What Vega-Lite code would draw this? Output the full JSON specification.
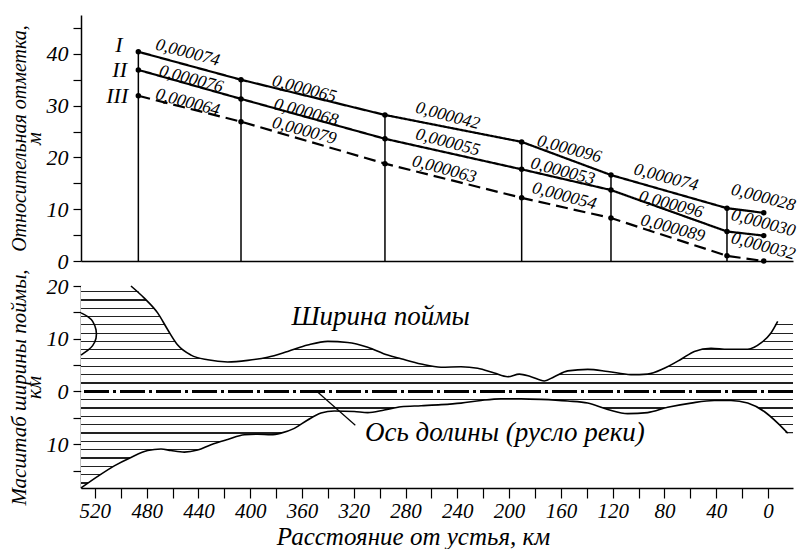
{
  "$schema": "https://vega.github.io/schema/vega-lite/v6.json",
  "padding": {"left": 7, "top": 15, "right": 0, "bottom": 0},
  "background": "white",
  "config": {
    "view": {"stroke": null},
    "font": "Liberation Serif, Times New Roman, DejaVu Serif, serif",
    "axis": {
      "grid": false, "domainColor": "black", "tickColor": "black", "labelColor": "black", "titleColor": "black",
      "labelFont": "Liberation Serif, Times New Roman, DejaVu Serif, serif", "labelFontStyle": "italic", "labelFontSize": 22,
      "titleFont": "Liberation Serif, Times New Roman, DejaVu Serif, serif", "titleFontStyle": "italic", "titleFontSize": 21, "titleFontWeight": "normal",
      "domainWidth": 1.5, "tickWidth": 1.2, "zindex": 1
    }
  },
  "datasets": {
    "prof": [
      {"station": 1, "km": 486.4, "line": "I", "h": 40.4},
      {"station": 2, "km": 407.1, "line": "I", "h": 35.0},
      {"station": 3, "km": 295.9, "line": "I", "h": 28.2},
      {"station": 4, "km": 190.3, "line": "I", "h": 23.0},
      {"station": 5, "km": 121.3, "line": "I", "h": 16.6},
      {"station": 6, "km": 31.7, "line": "I", "h": 10.2},
      {"station": 7, "km": 3.3, "line": "I", "h": 9.3},
      {"station": 1, "km": 486.4, "line": "II", "h": 36.9},
      {"station": 2, "km": 407.1, "line": "II", "h": 31.3},
      {"station": 3, "km": 295.9, "line": "II", "h": 23.6},
      {"station": 4, "km": 190.3, "line": "II", "h": 17.7},
      {"station": 5, "km": 121.3, "line": "II", "h": 13.7},
      {"station": 6, "km": 31.7, "line": "II", "h": 5.7},
      {"station": 7, "km": 3.3, "line": "II", "h": 4.9},
      {"station": 1, "km": 486.4, "line": "III", "h": 31.9},
      {"station": 2, "km": 407.1, "line": "III", "h": 26.9},
      {"station": 3, "km": 295.9, "line": "III", "h": 18.8},
      {"station": 4, "km": 190.3, "line": "III", "h": 12.2},
      {"station": 5, "km": 121.3, "line": "III", "h": 8.3},
      {"station": 6, "km": 31.7, "line": "III", "h": 1.0},
      {"station": 7, "km": 3.3, "line": "III", "h": 0.0}
    ],
    "labels": [
      {"kind": "roman", "seg": "R1", "text": "I", "km": 498.5, "h": 41.7},
      {"kind": "roman", "seg": "R2", "text": "II", "km": 495.2, "h": 36.9},
      {"kind": "roman", "seg": "R3", "text": "III", "km": 494.2, "h": 31.8},
      {"kind": "slope", "seg": "I1", "text": "0,000074", "km": 448.3, "h": 40.2},
      {"kind": "slope", "seg": "II1", "text": "0,000076", "km": 445.6, "h": 35.1},
      {"kind": "slope", "seg": "III1", "text": "0,000064", "km": 448.3, "h": 30.6},
      {"kind": "slope", "seg": "I2", "text": "0,000065", "km": 358.2, "h": 33.2},
      {"kind": "slope", "seg": "II2", "text": "0,000068", "km": 356.9, "h": 28.7},
      {"kind": "slope", "seg": "III2", "text": "0,000079", "km": 358.2, "h": 25.1},
      {"kind": "slope", "seg": "I3", "text": "0,000042", "km": 247.4, "h": 28.0},
      {"kind": "slope", "seg": "II3", "text": "0,000055", "km": 247.4, "h": 22.9},
      {"kind": "slope", "seg": "III3", "text": "0,000063", "km": 250.1, "h": 17.7},
      {"kind": "slope", "seg": "I4", "text": "0,000096", "km": 153.5, "h": 21.6},
      {"kind": "slope", "seg": "II4", "text": "0,000053", "km": 158.6, "h": 17.3},
      {"kind": "slope", "seg": "III4", "text": "0,000054", "km": 157.4, "h": 12.5},
      {"kind": "slope", "seg": "I5", "text": "0,000074", "km": 78.8, "h": 16.1},
      {"kind": "slope", "seg": "II5", "text": "0,000096", "km": 74.9, "h": 10.9},
      {"kind": "slope", "seg": "III5", "text": "0,000089", "km": 73.6, "h": 6.3},
      {"kind": "slope", "seg": "I6", "text": "0,000028", "km": 3.6, "h": 12.2},
      {"kind": "slope", "seg": "II6", "text": "0,000030", "km": 3.6, "h": 7.3},
      {"kind": "slope", "seg": "III6", "text": "0,000032", "km": 3.6, "h": 2.8}
    ],
    "upper": [
      {"km": 530.7, "h": 20.0, "drawn": false},
      {"km": 492.1, "h": 20.0, "drawn": true},
      {"km": 481.8, "h": 17.7, "drawn": true},
      {"km": 471.5, "h": 14.9, "drawn": true},
      {"km": 463.7, "h": 11.7, "drawn": true},
      {"km": 456.0, "h": 8.8, "drawn": true},
      {"km": 445.7, "h": 6.9, "drawn": true},
      {"km": 432.8, "h": 6.0, "drawn": true},
      {"km": 417.4, "h": 5.6, "drawn": true},
      {"km": 401.9, "h": 5.9, "drawn": true},
      {"km": 386.5, "h": 6.5, "drawn": true},
      {"km": 371.0, "h": 7.6, "drawn": true},
      {"km": 355.6, "h": 8.8, "drawn": true},
      {"km": 340.1, "h": 9.5, "drawn": true},
      {"km": 324.7, "h": 9.3, "drawn": true},
      {"km": 309.2, "h": 8.4, "drawn": true},
      {"km": 293.8, "h": 6.9, "drawn": true},
      {"km": 283.5, "h": 6.2, "drawn": true},
      {"km": 268.0, "h": 5.2, "drawn": true},
      {"km": 252.6, "h": 4.6, "drawn": true},
      {"km": 237.2, "h": 4.7, "drawn": true},
      {"km": 224.3, "h": 4.4, "drawn": true},
      {"km": 211.4, "h": 3.5, "drawn": true},
      {"km": 201.1, "h": 2.8, "drawn": true},
      {"km": 192.1, "h": 3.3, "drawn": true},
      {"km": 183.1, "h": 2.8, "drawn": true},
      {"km": 172.8, "h": 2.0, "drawn": true},
      {"km": 165.1, "h": 2.8, "drawn": true},
      {"km": 154.7, "h": 3.9, "drawn": true},
      {"km": 139.3, "h": 4.2, "drawn": true},
      {"km": 123.8, "h": 3.8, "drawn": true},
      {"km": 106.0, "h": 3.2, "drawn": true},
      {"km": 93.0, "h": 3.3, "drawn": true},
      {"km": 80.1, "h": 4.4, "drawn": true},
      {"km": 67.2, "h": 6.1, "drawn": true},
      {"km": 56.9, "h": 7.6, "drawn": true},
      {"km": 44.0, "h": 8.2, "drawn": true},
      {"km": 31.1, "h": 8.0, "drawn": true},
      {"km": 15.7, "h": 8.0, "drawn": true},
      {"km": 5.4, "h": 9.2, "drawn": true},
      {"km": -2.3, "h": 11.1, "drawn": true},
      {"km": -7.5, "h": 13.3, "drawn": true},
      {"km": -19.3, "h": 13.3, "drawn": false}
    ],
    "lower": [
      {"km": 530.7, "h": -18.3, "drawn": true},
      {"km": 517.8, "h": -16.1, "drawn": true},
      {"km": 505.0, "h": -14.1, "drawn": true},
      {"km": 492.1, "h": -12.5, "drawn": true},
      {"km": 479.2, "h": -11.2, "drawn": true},
      {"km": 468.9, "h": -10.9, "drawn": true},
      {"km": 461.2, "h": -11.2, "drawn": true},
      {"km": 450.9, "h": -11.5, "drawn": true},
      {"km": 440.6, "h": -11.1, "drawn": true},
      {"km": 430.3, "h": -10.1, "drawn": true},
      {"km": 417.4, "h": -9.1, "drawn": true},
      {"km": 404.5, "h": -8.2, "drawn": true},
      {"km": 394.2, "h": -8.1, "drawn": true},
      {"km": 383.9, "h": -8.2, "drawn": true},
      {"km": 376.2, "h": -7.9, "drawn": true},
      {"km": 365.9, "h": -7.0, "drawn": true},
      {"km": 355.6, "h": -5.4, "drawn": true},
      {"km": 345.3, "h": -4.1, "drawn": true},
      {"km": 335.0, "h": -3.7, "drawn": true},
      {"km": 319.6, "h": -3.8, "drawn": true},
      {"km": 309.2, "h": -4.0, "drawn": true},
      {"km": 296.4, "h": -3.5, "drawn": true},
      {"km": 283.5, "h": -2.9, "drawn": true},
      {"km": 268.0, "h": -2.7, "drawn": true},
      {"km": 252.6, "h": -2.5, "drawn": true},
      {"km": 237.2, "h": -2.2, "drawn": true},
      {"km": 221.7, "h": -1.7, "drawn": true},
      {"km": 206.3, "h": -1.4, "drawn": true},
      {"km": 190.8, "h": -1.4, "drawn": true},
      {"km": 175.4, "h": -1.5, "drawn": true},
      {"km": 154.7, "h": -1.8, "drawn": true},
      {"km": 139.3, "h": -2.2, "drawn": true},
      {"km": 123.8, "h": -3.4, "drawn": true},
      {"km": 108.4, "h": -4.2, "drawn": true},
      {"km": 93.0, "h": -4.0, "drawn": true},
      {"km": 77.5, "h": -3.0, "drawn": true},
      {"km": 59.5, "h": -2.2, "drawn": true},
      {"km": 41.5, "h": -1.7, "drawn": true},
      {"km": 28.6, "h": -1.7, "drawn": true},
      {"km": 15.7, "h": -2.2, "drawn": true},
      {"km": 2.9, "h": -3.8, "drawn": true},
      {"km": -7.5, "h": -6.0, "drawn": true},
      {"km": -15.2, "h": -7.9, "drawn": true},
      {"km": -19.3, "h": -7.9, "drawn": false}
    ],
    "loop": [
      {"i": 0, "km": 530.7, "h": 14.9},
      {"i": 1, "km": 525.5, "h": 14.2},
      {"i": 2, "km": 521.7, "h": 13.3},
      {"i": 3, "km": 519.1, "h": 11.7},
      {"i": 4, "km": 519.1, "h": 10.1},
      {"i": 5, "km": 521.7, "h": 8.7},
      {"i": 6, "km": 526.1, "h": 7.7},
      {"i": 7, "km": 530.7, "h": 6.9}
    ],
    "notes": [
      {"text": "Ширина поймы", "km": 299.3, "h": 14.2},
      {"text": "Ось долины (русло реки)", "km": 203.2, "h": -7.9}
    ],
    "leader": [
      {"km": 348.4, "h": 0, "km2": 318.8, "h2": -6.4}
    ],
    "axisline": [
      {"h": 0}
    ]
  },
  "vconcat": [
    {
      "width": 712,
      "height": 246,
      "encoding": {
        "x": {"field": "km", "type": "quantitative",
              "scale": {"domain": [-19.3, 530.7], "reverse": true, "nice": false, "zero": false},
              "axis": {"domain": true, "ticks": false, "labels": false, "title": null}},
        "y": {"field": "h", "type": "quantitative",
              "scale": {"domain": [0, 47.5], "nice": false},
              "axis": {"values": [0, 5, 10, 15, 20, 25, 30, 35, 40, 45],
                       "labelExpr": "datum.value % 10 === 0 ? datum.label : ''",
                       "tickSize": 8, "labelPadding": 5, "titlePadding": 2, "titleLineHeight": 15,
                       "titleFontSize": 20,
                       "title": ["Относительная отметка,", "м"]}}
      },
      "layer": [
        {
          "data": {"name": "prof"},
          "transform": [{"filter": "datum.line === 'I' && datum.station < 7"}],
          "mark": {"type": "rule", "color": "black", "strokeWidth": 1.5},
          "encoding": {"y2": {"datum": 0}}
        },
        {
          "data": {"name": "prof"},
          "mark": {"type": "line", "color": "black", "strokeWidth": 2.2},
          "encoding": {
            "detail": {"field": "line"},
            "strokeDash": {"field": "line", "type": "nominal",
                           "scale": {"domain": ["I", "II", "III"], "range": [[1, 0], [1, 0], [12, 6]]},
                           "legend": null}
          }
        },
        {
          "data": {"name": "prof"},
          "mark": {"type": "point", "filled": true, "color": "black", "opacity": 1, "size": 30}
        },
        {
          "data": {"name": "labels"},
          "transform": [{"filter": "datum.kind === 'roman'"}],
          "mark": {"type": "text", "align": "right", "baseline": "middle", "font": "Liberation Serif, Times New Roman, DejaVu Serif, serif", "fontStyle": "italic", "fontSize": 22, "color": "black"},
          "encoding": {"text": {"field": "text"}}
        },
        {
          "data": {"name": "labels"},
          "transform": [{"filter": "datum.kind === 'slope'"}],
          "mark": {"type": "text", "align": "center", "baseline": "middle", "font": "Liberation Serif, Times New Roman, DejaVu Serif, serif", "fontStyle": "italic", "fontSize": 17.5, "color": "black"},
          "encoding": {
            "text": {"field": "text"},
            "angle": {"field": "seg", "type": "nominal",
                      "scale": {"domain": ["I1","II1","III1","I2","II2","III2","I3","II3","III3","I4","II4","III4","I5","II5","III5","I6","II6","III6"],
                                "range": [15,15,14,14,15,15,11,12,13,20,12,12,16,18,17,0,0,0]},
                      "legend": null}
          }
        }
      ]
    },
    {
      "width": 712,
      "height": 202,
      "encoding": {
        "x": {"field": "km", "type": "quantitative",
              "scale": {"domain": [-19.3, 530.7], "reverse": true, "nice": false, "zero": false},
              "axis": {"values": [0,20,40,60,80,100,120,140,160,180,200,220,240,260,280,300,320,340,360,380,400,420,440,460,480,500,520],
                       "labelExpr": "datum.value % 40 === 0 ? datum.label : ''",
                       "format": "d", "tickSize": 10, "labelPadding": 2, "labelFontSize": 21,
                       "titleFontSize": 25, "titlePadding": 3, "titleX": 332,
                       "title": "Расстояние от устья, км"}},
        "y": {"field": "h", "type": "quantitative",
              "scale": {"domain": [-18.3, 20], "nice": false, "zero": false},
              "axis": {"values": [-15, -10, -5, 0, 5, 10, 15, 20],
                       "labelExpr": "datum.value % 10 === 0 ? format(abs(datum.value), 'd') : ''",
                       "tickSize": 8, "labelPadding": 5, "titlePadding": 2, "titleLineHeight": 15,
                       "title": ["Масштаб ширины поймы,", "км"]}}
      },
      "layer": [
        {
          "data": {"name": "upper"},
          "mark": {"type": "area", "interpolate": "monotone",
                   "fill": {"gradient": "linear", "x1": 0, "y1": 1, "x2": 0, "y2": 0,
                            "stops": [
                              {"offset": 0, "color": "white"},
                              {"offset": 0.0728, "color": "white"}, {"offset": 0.0728, "color": "#222"}, {"offset": 0.0852, "color": "#222"}, {"offset": 0.0852, "color": "white"},
                              {"offset": 0.1517, "color": "white"}, {"offset": 0.1517, "color": "#222"}, {"offset": 0.1641, "color": "#222"}, {"offset": 0.1641, "color": "white"},
                              {"offset": 0.2307, "color": "white"}, {"offset": 0.2307, "color": "#222"}, {"offset": 0.2431, "color": "#222"}, {"offset": 0.2431, "color": "white"},
                              {"offset": 0.3097, "color": "white"}, {"offset": 0.3097, "color": "#222"}, {"offset": 0.3221, "color": "#222"}, {"offset": 0.3221, "color": "white"},
                              {"offset": 0.3887, "color": "white"}, {"offset": 0.3887, "color": "#222"}, {"offset": 0.4011, "color": "#222"}, {"offset": 0.4011, "color": "white"},
                              {"offset": 0.4676, "color": "white"}, {"offset": 0.4676, "color": "#222"}, {"offset": 0.4800, "color": "#222"}, {"offset": 0.4800, "color": "white"},
                              {"offset": 0.5466, "color": "white"}, {"offset": 0.5466, "color": "#222"}, {"offset": 0.5590, "color": "#222"}, {"offset": 0.5590, "color": "white"},
                              {"offset": 0.6256, "color": "white"}, {"offset": 0.6256, "color": "#222"}, {"offset": 0.6380, "color": "#222"}, {"offset": 0.6380, "color": "white"},
                              {"offset": 0.7045, "color": "white"}, {"offset": 0.7045, "color": "#222"}, {"offset": 0.7169, "color": "#222"}, {"offset": 0.7169, "color": "white"},
                              {"offset": 0.7835, "color": "white"}, {"offset": 0.7835, "color": "#222"}, {"offset": 0.7959, "color": "#222"}, {"offset": 0.7959, "color": "white"},
                              {"offset": 0.8625, "color": "white"}, {"offset": 0.8625, "color": "#222"}, {"offset": 0.8749, "color": "#222"}, {"offset": 0.8749, "color": "white"},
                              {"offset": 0.9414, "color": "white"}, {"offset": 0.9414, "color": "#222"}, {"offset": 0.9538, "color": "#222"}, {"offset": 0.9538, "color": "white"},
                              {"offset": 1, "color": "white"}
                            ]}},
          "encoding": {"y2": {"datum": 0}}
        },
        {
          "data": {"name": "lower"},
          "mark": {"type": "area", "interpolate": "monotone",
                   "fill": {"gradient": "linear", "x1": 0, "y1": 0, "x2": 0, "y2": 1,
                            "stops": [
                              {"offset": 0, "color": "white"},
                              {"offset": 0.0796, "color": "white"}, {"offset": 0.0796, "color": "#222"}, {"offset": 0.0930, "color": "#222"}, {"offset": 0.0930, "color": "white"},
                              {"offset": 0.1659, "color": "white"}, {"offset": 0.1659, "color": "#222"}, {"offset": 0.1793, "color": "#222"}, {"offset": 0.1793, "color": "white"},
                              {"offset": 0.2522, "color": "white"}, {"offset": 0.2522, "color": "#222"}, {"offset": 0.2656, "color": "#222"}, {"offset": 0.2656, "color": "white"},
                              {"offset": 0.3385, "color": "white"}, {"offset": 0.3385, "color": "#222"}, {"offset": 0.3519, "color": "#222"}, {"offset": 0.3519, "color": "white"},
                              {"offset": 0.4248, "color": "white"}, {"offset": 0.4248, "color": "#222"}, {"offset": 0.4382, "color": "#222"}, {"offset": 0.4382, "color": "white"},
                              {"offset": 0.5111, "color": "white"}, {"offset": 0.5111, "color": "#222"}, {"offset": 0.5245, "color": "#222"}, {"offset": 0.5245, "color": "white"},
                              {"offset": 0.5974, "color": "white"}, {"offset": 0.5974, "color": "#222"}, {"offset": 0.6108, "color": "#222"}, {"offset": 0.6108, "color": "white"},
                              {"offset": 0.6837, "color": "white"}, {"offset": 0.6837, "color": "#222"}, {"offset": 0.6971, "color": "#222"}, {"offset": 0.6971, "color": "white"},
                              {"offset": 0.7700, "color": "white"}, {"offset": 0.7700, "color": "#222"}, {"offset": 0.7834, "color": "#222"}, {"offset": 0.7834, "color": "white"},
                              {"offset": 0.8563, "color": "white"}, {"offset": 0.8563, "color": "#222"}, {"offset": 0.8697, "color": "#222"}, {"offset": 0.8697, "color": "white"},
                              {"offset": 0.9426, "color": "white"}, {"offset": 0.9426, "color": "#222"}, {"offset": 0.9560, "color": "#222"}, {"offset": 0.9560, "color": "white"},
                              {"offset": 1, "color": "white"}
                            ]}},
          "encoding": {"y2": {"datum": 0}}
        },
        {
          "data": {"name": "upper"},
          "transform": [{"filter": "datum.drawn"}],
          "mark": {"type": "line", "interpolate": "monotone", "color": "black", "strokeWidth": 1.6},
          "encoding": {}
        },
        {
          "data": {"name": "lower"},
          "transform": [{"filter": "datum.drawn"}],
          "mark": {"type": "line", "interpolate": "monotone", "color": "black", "strokeWidth": 1.6},
          "encoding": {}
        },
        {
          "data": {"name": "loop"},
          "mark": {"type": "line", "interpolate": "cardinal", "color": "black", "strokeWidth": 1.6},
          "encoding": {"order": {"field": "i", "type": "quantitative"}}
        },
        {
          "data": {"name": "axisline"},
          "mark": {"type": "rule", "color": "black", "strokeWidth": 2.8, "strokeDash": [25, 4, 3, 4]},
          "encoding": {"x": null}
        },
        {
          "data": {"name": "leader"},
          "mark": {"type": "rule", "color": "black", "strokeWidth": 1.2},
          "encoding": {"x2": {"field": "km2"}, "y2": {"field": "h2"}}
        },
        {
          "data": {"name": "notes"},
          "mark": {"type": "text", "align": "center", "baseline": "middle", "font": "Liberation Serif, Times New Roman, DejaVu Serif, serif", "fontStyle": "italic", "fontSize": 27, "color": "black"},
          "encoding": {"text": {"field": "text"}}
        }
      ]
    }
  ],
  "spacing": 25,
  "bounds": "flush"
}
